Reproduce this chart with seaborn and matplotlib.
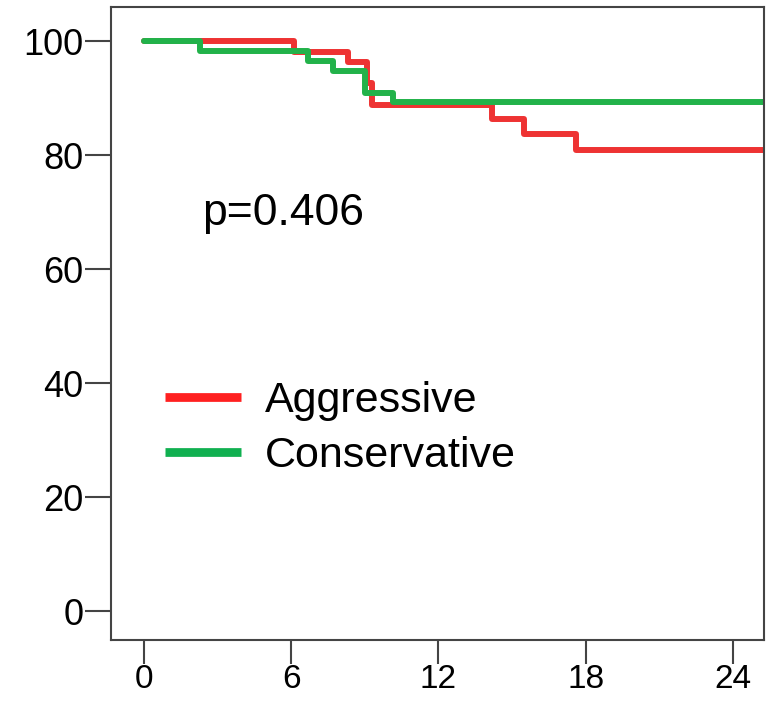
import matplotlib
matplotlib.use("Agg")
import matplotlib.pyplot as plt
import seaborn as sns
import pandas as pd

sns.set_theme(style="white")
plt.rcParams['font.family'] = ['Liberation Sans', 'DejaVu Sans']

# Kaplan-Meier step data (months, survival %)
aggr_time = [0, 6.1, 8.3, 9.1, 9.3, 14.2, 15.5, 17.6, 25.3]
aggr_surv = [100, 98.1, 96.3, 92.6, 88.8, 86.3, 83.8, 80.9, 80.9]
cons_time = [0, 2.3, 6.7, 7.7, 9.0, 10.15, 25.3]
cons_surv = [100, 98.2, 96.5, 94.7, 91.0, 89.3, 89.3]
groups = ["Aggressive", "Conservative"]
xticks = [0, 6, 12, 18, 24]
yticks = [0, 20, 40, 60, 80, 100]
p_text = "p=0.406"

df = pd.concat([
    pd.DataFrame({"time": aggr_time, "surv": aggr_surv, "group": groups[0]}),
    pd.DataFrame({"time": cons_time, "surv": cons_surv, "group": groups[1]}),
], ignore_index=True)

fig = plt.figure(figsize=(7.69, 7.01), dpi=100)
ax = fig.add_axes([111/769, 1 - 640/701, (764-111)/769, (640-7)/701])

sns.lineplot(data=df, x="time", y="surv", hue="group",
             palette={"Aggressive": "#ee3333", "Conservative": "#22b24a"},
             drawstyle="steps-post", linewidth=4.3, ax=ax, estimator=None,
             sort=False, legend=True)

ax.set_xlim(-1.34, 25.26)
ax.set_ylim(-5.0, 106.0)
ax.set_xticks(xticks)
ax.set_yticks(yticks)
ax.set_xlabel("")
ax.set_ylabel("")
for s in ax.spines.values():
    s.set_color("#444444")
    s.set_linewidth(1.5)
ax.tick_params(axis="y", direction="out", length=19, width=1.5,
               color="#444444", labelsize=26, pad=1, labelcolor="black", left=True)
ax.tick_params(axis="x", direction="out", length=17, width=1.5,
               color="#444444", labelsize=24, pad=0, labelcolor="black", bottom=True)

ax.text(2.36, 67.8, p_text, fontsize=32, ha="left", va="baseline", color="black")

handles, labels = ax.get_legend_handles_labels()
leg = ax.legend(handles, labels, loc="center left", bbox_to_anchor=(0.0827, 0.334),
                frameon=False, fontsize=31, handlelength=1.77, handletextpad=0.56,
                labelspacing=0.34, borderpad=0, borderaxespad=0)
for t in leg.get_texts():
    t.set_color("black")
for h, c in zip(leg.get_lines(), ["#ff2020", "#10b050"]):
    h.set_linewidth(6.3)
    h.set_color(c)
    h.set_solid_capstyle("butt")

fig.savefig("out.png", dpi=100)
